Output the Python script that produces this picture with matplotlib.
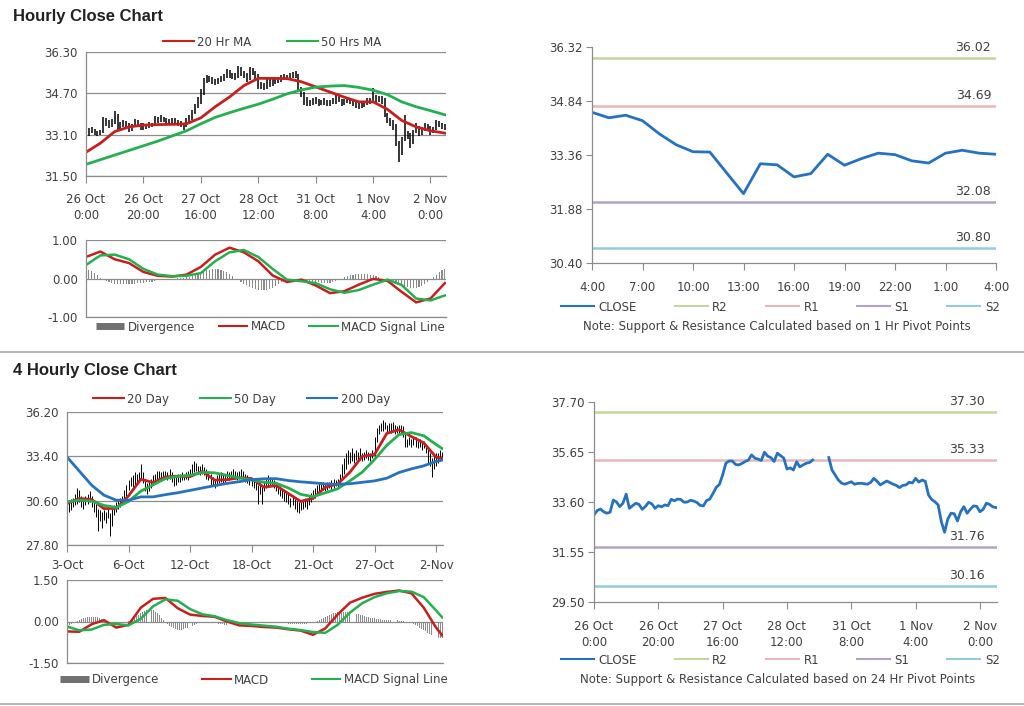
import numpy as np
import matplotlib
matplotlib.use('Agg')
import matplotlib.pyplot as plt
from matplotlib.lines import Line2D

plt.rcParams['font.family'] = ['DejaVu Sans']
plt.rcParams['font.size'] = 8

nan = np.nan

# ---------------- hourly data (26 Oct 0:00 .. 2 Nov) ----------------
hr_tick_labels = ['26 Oct\n0:00', '26 Oct\n20:00', '27 Oct\n16:00', '28 Oct\n12:00',
                  '31 Oct\n8:00', '1 Nov\n4:00', '2 Nov\n0:00']

hourly_close = [33.07, 33.25, 33.31, 33.20, 33.14, 33.18, 33.68, 33.60, 33.41, 33.55,
                33.92, 33.34, 33.45, 33.55, 33.50, 33.30, 33.42, 33.59, 33.52, 33.34,
                33.45, 33.40, 33.48, 33.45, 33.71, 33.65, 33.72, 33.70, 33.59, 33.60,
                33.67, 33.64, 33.58, 33.46, 33.44, 33.66, 33.72, 33.95, 34.20, 34.32,
                34.71, 35.19, 35.28, 35.28, 35.14, 35.12, 35.18, 35.26, 35.32, 35.53,
                35.40, 35.36, 35.30, 35.64, 35.48, 35.42, 35.26, 35.60, 35.50, 35.40,
                34.95, 35.00, 34.91, 35.25, 35.04, 35.12, 35.19, 35.22, 35.32, nan,
                nan, nan, nan, 35.42, 34.91, 34.70, 34.50, 34.37, 34.33, 34.38,
                34.43, 34.33, 34.36, 34.37, 34.35, 34.33, 34.40, 34.57, 34.45, 34.30,
                34.38, 34.46, 34.40, 34.33, 34.28, 34.19, 34.28, 34.30, 34.41, 34.38,
                34.57, 34.42, 34.50, 34.45, 33.89, 33.70, 33.61, 33.48, 32.79, 32.36,
                32.90, 33.14, 33.12, 32.82, 33.20, 33.41, 33.14, 33.30, 33.44, 33.42,
                33.20, 33.30, 33.55, 33.50, 33.40, 33.37]

hourly_high = [33.20, 33.35, 33.40, 33.32, 33.25, 33.30, 33.80, 33.75, 33.65, 33.70,
               34.02, 33.90, 33.60, 33.68, 33.62, 33.55, 33.52, 33.70, 33.65, 33.55,
               33.55, 33.52, 33.58, 33.56, 33.82, 33.78, 33.85, 33.80, 33.74, 33.70,
               33.76, 33.74, 33.68, 33.62, 33.55, 33.75, 33.85, 34.05, 34.30, 34.55,
               34.85, 35.30, 35.40, 35.38, 35.32, 35.25, 35.30, 35.38, 35.45, 35.65,
               35.60, 35.50, 35.48, 35.75, 35.70, 35.58, 35.50, 35.70, 35.68, 35.58,
               35.45, 35.15, 35.10, 35.35, 35.30, 35.25, 35.30, 35.35, 35.42, 35.45,
               35.42, 35.48, 35.52, 35.55, 35.45, 34.95, 34.75, 34.55, 34.45, 34.50,
               34.55, 34.48, 34.46, 34.50, 34.45, 34.45, 34.52, 34.65, 34.60, 34.48,
               34.48, 34.56, 34.52, 34.45, 34.40, 34.32, 34.38, 34.40, 34.52, 34.50,
               34.90, 34.62, 34.60, 34.58, 34.50, 33.95, 33.75, 33.65, 33.50, 32.85,
               33.00, 33.85, 33.25, 33.15, 33.30, 33.55, 33.45, 33.40, 33.55, 33.52,
               33.45, 33.40, 33.65, 33.62, 33.55, 33.50]

hourly_low = [32.95, 33.05, 33.18, 33.10, 33.05, 33.08, 33.15, 33.45, 33.35, 33.38,
              33.50, 33.25, 33.30, 33.40, 33.35, 33.20, 33.25, 33.38, 33.40, 33.28,
              33.30, 33.32, 33.36, 33.38, 33.42, 33.55, 33.60, 33.58, 33.50, 33.50,
              33.55, 33.52, 33.45, 33.38, 33.30, 33.40, 33.60, 33.65, 33.90, 34.15,
              34.30, 34.65, 35.10, 35.15, 35.05, 35.02, 35.05, 35.12, 35.18, 35.28,
              35.30, 35.25, 35.20, 35.28, 35.38, 35.30, 35.15, 35.22, 35.40, 35.25,
              34.85, 34.88, 34.82, 34.88, 34.95, 35.00, 35.05, 35.10, 35.15, 35.22,
              35.20, 35.25, 35.28, 35.30, 34.80, 34.55, 34.25, 34.22, 34.20, 34.25,
              34.30, 34.22, 34.25, 34.25, 34.22, 34.20, 34.28, 34.30, 34.35, 34.20,
              34.25, 34.32, 34.30, 34.22, 34.15, 34.08, 34.12, 34.18, 34.25, 34.28,
              34.35, 34.32, 34.38, 34.30, 33.80, 33.55, 33.45, 33.30, 32.65, 32.05,
              32.30, 32.85, 32.95, 32.60, 32.75, 33.15, 33.05, 33.10, 33.25, 33.30,
              33.10, 33.15, 33.30, 33.40, 33.32, 33.28]

# moving averages / MACD read every 5 hours
hr_ma20 = [32.42, 32.77, 33.22, 33.40, 33.47, 33.49, 33.50, 33.52, 33.75, 34.18,
           34.56, 35.00, 35.28, 35.28, 35.27, 35.15, 34.95, 34.75, 34.55, 34.37,
           34.37, 34.08, 33.65, 33.40, 33.25, 33.16]
hr_ma50 = [31.95, 32.13, 32.31, 32.49, 32.67, 32.85, 33.05, 33.25, 33.52, 33.77,
           33.95, 34.12, 34.28, 34.47, 34.68, 34.83, 34.94, 34.98, 35.00, 34.93,
           34.82, 34.65, 34.37, 34.18, 34.03, 33.87]
hr_macd = [0.56, 0.70, 0.50, 0.40, 0.17, 0.07, 0.05, 0.10, 0.30, 0.62,
           0.80, 0.68, 0.45, 0.08, -0.09, -0.03, -0.18, -0.38, -0.33, -0.16,
           -0.01, -0.06, -0.35, -0.62, -0.52, -0.12]
hr_signal = [0.35, 0.60, 0.62, 0.50, 0.25, 0.10, 0.06, 0.07, 0.14, 0.45,
             0.68, 0.74, 0.56, 0.25, -0.03, -0.07, -0.12, -0.28, -0.37, -0.30,
             -0.16, -0.03, -0.17, -0.52, -0.57, -0.44]
hr_div = [0.20, 0.22, 0.20, 0.15, 0.08, 0.02, -0.03, -0.07, -0.10, -0.12,
          -0.13, -0.14, -0.14, -0.15, -0.14, -0.14, -0.13, -0.13, -0.12, -0.12,
          -0.11, -0.10, -0.09, -0.08, -0.06, -0.05, -0.04, -0.03, -0.02, -0.02,
          -0.01, 0.00, 0.01, 0.01, 0.02, 0.03, 0.05, 0.07, 0.10, 0.13,
          0.16, 0.19, 0.21, 0.23, 0.24, 0.25, 0.24, 0.22, 0.20, 0.16,
          0.12, 0.06, 0.00, -0.05, -0.10, -0.14, -0.18, -0.21, -0.24, -0.27,
          -0.29, -0.30, -0.30, -0.29, -0.27, -0.24, -0.20, -0.15, -0.10, -0.06,
          -0.03, -0.02, -0.02, -0.03, -0.03, -0.04, -0.05, -0.06, -0.07, -0.08,
          -0.09, -0.10, -0.11, -0.12, -0.12, -0.11, -0.09, -0.06, -0.03, 0.00,
          0.03, 0.06, 0.08, 0.10, 0.11, 0.12, 0.12, 0.12, 0.11, 0.10,
          0.08, 0.06, 0.03, 0.00, -0.03, -0.06, -0.09, -0.12, -0.15, -0.18,
          -0.20, -0.22, -0.23, -0.24, -0.25, -0.24, -0.22, -0.19, -0.15, -0.10,
          -0.05, 0.03, 0.10, 0.16, 0.21, 0.25]

# last 24 hours (1 Hr pivot chart)
day_labels = ['4:00', '7:00', '10:00', '13:00', '16:00', '19:00', '22:00', '1:00', '4:00']
day_close = [34.53, 34.38, 34.45, 34.30, 33.94, 33.64, 33.45, 33.44, 32.87, 32.30,
             33.12, 33.09, 32.76, 32.85, 33.38, 33.08, 33.26, 33.41, 33.37, 33.20,
             33.14, 33.41, 33.49, 33.41, 33.38]

pivot_names = ['R2', 'R1', 'S1', 'S2']
hr_pivots = [36.02, 34.69, 32.08, 30.80]
h24_pivots = [37.30, 35.33, 31.76, 30.16]

# ---------------- 4 hourly data (3 Oct .. 2 Nov) ----------------
h4_tick_labels = ['3-Oct', '6-Oct', '12-Oct', '18-Oct', '21-Oct', '27-Oct', '2-Nov']

h4_low = [29.7, 29.9, 30.0, 30.2, 30.3, 30.4, 30.5, 30.2, 30.1, 30.3,
          30.4, 30.5, 30.2, 29.9, 29.6, 28.7, 29.3, 28.9, 29.4, 29.2,
          29.5, 28.4, 29.0, 29.7, 29.9, 30.1, 30.2, 30.4, 30.6, 30.9,
          31.3, 31.5, 31.3, 31.6, 31.7, 31.8, 31.9, 31.7, 31.2, 31.0,
          31.2, 31.4, 31.6, 31.8, 31.9, 32.0, 31.9, 32.0, 32.1, 31.9,
          32.0, 31.8, 31.5, 31.6, 31.8, 31.8, 31.9, 31.9, 32.0, 31.9,
          32.1, 32.3, 32.4, 32.5, 32.3, 32.2, 32.3, 32.2, 32.0, 31.9,
          31.6, 31.5, 31.4, 31.5, 31.7, 31.8, 31.7, 31.8, 32.0, 31.9,
          32.0, 32.1, 32.0, 31.9, 32.0, 32.1, 32.0, 31.8, 31.7, 31.6,
          31.5, 31.4, 31.3, 30.4, 31.0, 30.4, 31.2, 31.4, 31.5, 31.6,
          31.5, 31.4, 31.2, 31.0, 30.9, 30.8, 30.6, 30.5, 30.4, 30.2,
          30.3, 30.1, 29.9, 29.8, 30.0, 30.1, 30.2, 30.1, 30.3, 30.5,
          30.7, 30.8, 31.0, 31.1, 31.2, 31.3, 31.2, 31.3, 31.4, 31.3,
          31.4, 31.5, 31.4, 31.6, 31.9, 32.3, 32.6, 32.9, 33.0, 33.1,
          33.0, 33.2, 33.1, 33.2, 33.1, 33.2, 33.3, 33.2, 33.1, 33.3,
          33.4, 34.3, 34.8, 35.0, 35.0, 35.1, 34.9, 35.0, 34.9, 35.0,
          34.8, 34.9, 34.8, 34.9, 34.6, 34.0, 34.0, 34.1, 34.0, 34.1,
          34.0, 33.9, 34.0, 33.8, 33.9, 33.6, 33.0, 32.8, 32.1, 32.6,
          32.8, 33.0, 33.1, 33.2]

h4_high = [30.5, 30.6, 30.7, 30.8, 31.0, 31.4, 31.3, 30.9, 30.8, 30.9,
           31.0, 31.2, 30.9, 30.6, 30.4, 30.1, 30.0, 29.9, 30.0, 29.9,
           30.1, 29.8, 30.1, 30.3, 30.5, 30.6, 30.8, 30.9, 31.3, 31.6,
           31.9, 32.1, 32.2, 32.4, 32.3, 32.4, 32.9, 32.4, 32.0, 31.7,
           31.8, 32.0, 32.2, 32.3, 32.5, 32.5, 32.4, 32.5, 32.5, 32.4,
           32.6, 32.4, 32.2, 32.1, 32.3, 32.3, 32.4, 32.3, 32.4, 32.5,
           32.6, 32.9, 33.1, 33.0, 32.8, 32.8, 32.9, 32.7, 32.6, 32.5,
           32.3, 32.1, 32.0, 32.2, 32.3, 32.4, 32.2, 32.3, 32.5, 32.4,
           32.5, 32.6, 32.5, 32.4, 32.5, 32.6, 32.5, 32.3, 32.2, 32.1,
           32.0, 31.9, 31.8, 31.6, 31.7, 31.5, 31.8, 32.0, 32.2, 32.1,
           32.0, 31.9, 31.7, 31.6, 31.5, 31.4, 31.2, 31.1, 31.0, 30.8,
           30.9, 30.7, 30.6, 30.5, 30.6, 30.7, 30.8, 30.7, 30.9, 31.1,
           31.3, 31.4, 31.6, 31.7, 31.7, 31.8, 31.7, 31.8, 31.8, 31.9,
           32.0, 31.9, 32.0, 32.3, 32.9, 33.3, 33.6, 33.8, 33.7, 33.9,
           33.6, 33.8, 33.7, 33.9, 33.6, 33.7, 33.8, 33.7, 33.6, 33.8,
           34.6, 35.2, 35.4, 35.5, 35.7, 35.6, 35.4, 35.5, 35.5, 35.6,
           35.4, 35.3, 35.4, 35.4, 35.3, 34.8, 34.5, 34.6, 34.5, 34.6,
           34.6, 34.4, 34.5, 34.4, 34.4, 34.2, 34.0, 33.6, 33.3, 33.4,
           33.6, 33.6, 33.8, 33.7]

# moving averages / MACD read every 6 bars (last at bar 183)
h4_ma20 = [30.42, 30.74, 30.68, 30.10, 30.11, 30.90, 31.95, 31.75, 32.10, 32.15,
           32.12, 32.45, 31.90, 31.92, 32.05, 32.00, 31.45, 31.55, 31.05, 30.55,
           30.75, 31.45, 31.65, 32.40, 33.40, 33.52, 34.85, 35.08, 34.65, 34.25,
           33.35, 33.26]
h4_ma50 = [30.53, 30.63, 30.57, 30.30, 30.17, 30.55, 31.20, 31.60, 32.00, 32.13,
           32.20, 32.38, 32.36, 32.20, 32.04, 31.90, 31.76, 31.70, 31.40, 31.00,
           30.85, 31.10, 31.35, 31.85, 32.40, 33.20, 34.10, 34.78, 34.90, 34.70,
           34.15, 33.89]
h4_ma200 = [33.36, 32.47, 31.58, 30.95, 30.63, 30.63, 30.84, 30.84, 30.98, 31.10,
            31.25, 31.40, 31.55, 31.69, 31.80, 31.93, 31.98, 31.99, 31.87, 31.79,
            31.73, 31.66, 31.63, 31.67, 31.76, 31.85, 32.02, 32.38, 32.61, 32.80,
            33.08, 33.16]
h4_macd = [-0.36, -0.37, -0.10, 0.05, -0.22, -0.12, 0.50, 0.82, 0.85, 0.48,
           0.25, 0.20, 0.17, 0.00, -0.14, -0.16, -0.20, -0.22, -0.28, -0.33,
           -0.48, -0.25, 0.25, 0.68, 0.86, 1.00, 1.07, 1.12, 1.02, 0.50,
           -0.22, -0.50]
h4_signal = [-0.18, -0.32, -0.29, -0.12, -0.09, -0.14, 0.10, 0.55, 0.80, 0.75,
             0.45, 0.26, 0.19, 0.05, -0.06, -0.11, -0.15, -0.19, -0.26, -0.31,
             -0.38, -0.41, -0.12, 0.32, 0.66, 0.88, 1.02, 1.10, 1.08, 0.88,
             0.40, 0.15]
h4_div = [-0.15, -0.13, -0.10, -0.07, -0.03, 0.02, 0.06, 0.09, 0.12, 0.14,
          0.15, 0.16, 0.17, 0.17, 0.16, 0.15, 0.13, 0.10, 0.07, 0.04,
          0.01, -0.02, -0.04, -0.05, -0.06, -0.06, -0.05, -0.04, -0.03, -0.01,
          0.02, 0.06, 0.10, 0.15, 0.20, 0.25, 0.30, 0.35, 0.39, 0.42,
          0.44, 0.43, 0.40, 0.35, 0.29, 0.22, 0.14, 0.06, -0.02, -0.09,
          -0.15, -0.20, -0.24, -0.27, -0.29, -0.30, -0.29, -0.27, -0.25, -0.22,
          -0.19, -0.16, -0.13, -0.10, -0.07, -0.05, -0.03, -0.02, -0.01, 0.00,
          -0.01, -0.03, -0.05, -0.07, -0.08, -0.09, -0.10, -0.11, -0.11, -0.12,
          -0.11, -0.10, -0.09, -0.08, -0.07, -0.06, -0.05, -0.05, -0.04, -0.04,
          -0.04, -0.04, -0.03, -0.03, -0.03, -0.02, -0.02, -0.02, -0.03, -0.04,
          -0.05, -0.05, -0.06, -0.06, -0.06, -0.07, -0.07, -0.07, -0.08, -0.08,
          -0.08, -0.09, -0.09, -0.10, -0.10, -0.10, -0.09, -0.08, -0.07, -0.06,
          -0.04, -0.02, 0.01, 0.04, 0.08, 0.12, 0.16, 0.20, 0.24, 0.27,
          0.30, 0.32, 0.34, 0.35, 0.36, 0.36, 0.36, 0.35, 0.34, 0.32,
          0.30, 0.28, 0.26, 0.24, 0.22, 0.20, 0.18, 0.16, 0.14, 0.12,
          0.11, 0.10, 0.09, 0.08, 0.07, 0.07, 0.06, 0.06, 0.05, 0.05,
          0.04, 0.04, 0.03, 0.02, 0.01, 0.00, -0.02, -0.04, -0.07, -0.10,
          -0.14, -0.18, -0.22, -0.27, -0.31, -0.36, -0.40, -0.44, -0.48, -0.52,
          -0.55, -0.58, -0.60, -0.61]

# ---------------- style ----------------
RED = '#c81e1e'
GREEN = '#24b04e'
BLUE = '#2472c0'
DIVC = '#8a8a8a'
AXC = '#8c8c8c'
TXT = '#404040'
PIVC = ['#c3d69b', '#e6b9b8', '#b3a2c7', '#93cddd']

fig = plt.figure(figsize=(10.24, 7.06), dpi=100)


def fr(x0, y0, x1, y1):
    # pixel box -> figure fraction
    return [x0 / 1024, 1 - y1 / 706, (x1 - x0) / 1024, (y1 - y0) / 706]


def base(ax, grid=True):
    for s in ['top', 'right']:
        ax.spines[s].set_visible(False)
    for s in ['left', 'bottom']:
        ax.spines[s].set_color(AXC)
        ax.spines[s].set_linewidth(0.9)
    ax.tick_params(colors=TXT, labelsize=8.5, color=AXC)
    if grid:
        ax.yaxis.grid(True, color=AXC, lw=0.9)
        ax.set_axisbelow(True)


def price_panel(ax, n, lo, hi, ma_x, mas, colors, ylim, yt, xt, xl, bar_lw):
    base(ax)
    ax.vlines(np.arange(n), lo, hi, color='black', lw=bar_lw)
    for m, c in zip(mas, colors):
        ax.plot(ma_x, m, color=c, lw=2.0)
    ax.set_ylim(*ylim)
    ax.set_yticks(yt)
    ax.set_yticklabels(['%.2f' % v for v in yt])
    ax.tick_params(axis='y', length=0, pad=6)
    ax.set_xlim(0, n - 0.6)
    ax.set_xticks(xt)
    ax.set_xticklabels(xl, color=TXT, linespacing=1.3)
    ax.tick_params(axis='x', length=5, pad=7, direction='out')


def macd_panel(ax, n, div, ma_x, macd, sig, lim, bw):
    base(ax)
    ax.bar(np.arange(n), div, width=bw, color=DIVC)
    ax.plot(ma_x, macd, color=RED, lw=1.8)
    ax.plot(ma_x, sig, color=GREEN, lw=1.8)
    ax.set_ylim(-lim, lim)
    ax.set_yticks([-lim, 0, lim])
    ax.set_yticklabels(['%.2f' % v for v in [-lim, 0, lim]])
    ax.tick_params(axis='y', length=0, pad=6)
    ax.set_xlim(0, n - 0.6)
    ax.tick_params(axis='x', bottom=False, labelbottom=False)


def macd_legend(center_x, y, spacing):
    h = [Line2D([], [], color='#707070', lw=5, solid_capstyle='butt'),
         Line2D([], [], color=RED, lw=1.5),
         Line2D([], [], color=GREEN, lw=1.5)]
    fig.legend(h, ['Divergence', 'MACD', 'MACD Signal Line'], loc='center',
               bbox_to_anchor=(center_x, y), ncol=3, frameon=False, fontsize=8.5,
               handlelength=2.4, columnspacing=spacing, handletextpad=0.3, labelcolor=TXT)


def pivot_panel(ax, x, close, piv, ylim, yt, xt, xl, lab_x, xmax):
    base(ax, grid=False)
    for v, c in zip(piv, PIVC):
        ax.axhline(v, color=c, lw=1.8)
        ax.annotate('%.2f' % v, xy=(lab_x, v), xycoords=('axes fraction', 'data'),
                    xytext=(0, 3), textcoords='offset points', ha='right', va='bottom',
                    fontsize=9, color=TXT)
    ax.plot(x, close, color=BLUE, lw=2.0)
    ax.set_ylim(*ylim)
    ax.set_yticks(yt)
    ax.set_yticklabels(['%.2f' % v for v in yt])
    ax.tick_params(axis='y', length=4, pad=3, direction='out')
    ax.set_xlim(0, xmax)
    ax.set_xticks(xt)
    ax.set_xticklabels(xl, linespacing=1.3)
    ax.tick_params(axis='x', length=5, pad=8, direction='out')


def pivot_legend(y_leg, y_note, note):
    h = [Line2D([], [], color=BLUE, lw=1.5)] + [Line2D([], [], color=c, lw=1.5) for c in PIVC]
    fig.legend(h, ['CLOSE'] + pivot_names, loc='center', bbox_to_anchor=(0.762, y_leg),
               ncol=5, frameon=False, fontsize=8.5, handlelength=2.8, columnspacing=3.2,
               handletextpad=0.4, labelcolor=TXT)
    fig.text(0.759, y_note, note, ha='center', va='center', fontsize=8.5, color=TXT)


# ---------------- Hourly section ----------------
fig.text(0.0127, 1 - 16 / 706, 'Hourly Close Chart', fontsize=12, fontweight='bold',
         family=['Liberation Sans', 'DejaVu Sans'], va='center', color='#222222')

hr_x = np.arange(len(hourly_high))
hr_ma_x = np.arange(0, 126, 5)

ax1 = fig.add_axes(fr(86, 52, 446, 176))
price_panel(ax1, len(hourly_high), hourly_low, hourly_high, hr_ma_x, [hr_ma20, hr_ma50],
            [RED, GREEN], (31.5, 36.3), [31.5, 33.1, 34.7, 36.3],
            np.arange(0, 121, 20), hr_tick_labels, 1.1)
fig.legend([Line2D([], [], color=RED, lw=1.5), Line2D([], [], color=GREEN, lw=1.5)],
           ['20 Hr MA', '50 Hrs MA'], loc='center', bbox_to_anchor=(0.266, 1 - 42 / 706),
           ncol=2, frameon=False, fontsize=8.5, handlelength=2.6, columnspacing=3.0,
           handletextpad=0.3, labelcolor=TXT)

ax2 = fig.add_axes(fr(86, 240, 446, 317))
macd_panel(ax2, len(hr_div), hr_div, hr_ma_x, hr_macd, hr_signal, 1.0, 0.4)
macd_legend(0.264, 1 - 327 / 706, 2.0)

ax3 = fig.add_axes(fr(592, 47, 996, 263))
pivot_panel(ax3, np.arange(len(day_close)), day_close, hr_pivots, (30.40, 36.32),
            [30.40, 31.88, 33.36, 34.84, 36.32], np.arange(0, 25, 3), day_labels, 0.988, 24)
pivot_legend(1 - 307 / 706, 1 - 326 / 706,
             'Note: Support & Resistance Calculated based on 1 Hr Pivot Points')

# separators
for yy in [352, 704]:
    fig.add_artist(Line2D([0, 1], [1 - yy / 706] * 2, color='#a8a8a8', lw=1.2,
                          transform=fig.transFigure))

# ---------------- 4 Hourly section ----------------
fig.text(0.0127, 1 - 370 / 706, '4 Hourly Close Chart', fontsize=12, fontweight='bold',
         family=['Liberation Sans', 'DejaVu Sans'], va='center', color='#222222')

h4_ma_x = np.append(np.arange(0, 181, 6), 183)

ax4 = fig.add_axes(fr(67, 412, 443, 545))
price_panel(ax4, len(h4_high), h4_low, h4_high, h4_ma_x, [h4_ma20, h4_ma50, h4_ma200],
            [RED, GREEN, BLUE], (27.8, 36.2), [27.8, 30.6, 33.4, 36.2],
            np.arange(0, 181, 30), h4_tick_labels, 0.7)
ax4.tick_params(axis='x', pad=5)
fig.legend([Line2D([], [], color=c, lw=1.5) for c in [RED, GREEN, BLUE]],
           ['20 Day', '50 Day', '200 Day'], loc='center', bbox_to_anchor=(0.236, 1 - 399 / 706),
           ncol=3, frameon=False, fontsize=8.5, handlelength=2.6, columnspacing=2.6,
           handletextpad=0.3, labelcolor=TXT)

ax5 = fig.add_axes(fr(67, 580, 443, 663))
macd_panel(ax5, len(h4_div), h4_div, h4_ma_x, h4_macd, h4_signal, 1.5, 0.45)
macd_legend(0.248, 1 - 680 / 706, 3.6)

ax6 = fig.add_axes(fr(594, 402, 997, 602))
pivot_panel(ax6, hr_x, hourly_close, h24_pivots, (29.50, 37.70),
            [29.50, 31.55, 33.60, 35.65, 37.70], np.arange(0, 121, 20), hr_tick_labels,
            0.97, len(hr_x) - 0.7)
pivot_legend(1 - 660 / 706, 1 - 680 / 706,
             'Note: Support & Resistance Calculated based on 24 Hr Pivot Points')

fig.savefig('out.png', dpi=100)
